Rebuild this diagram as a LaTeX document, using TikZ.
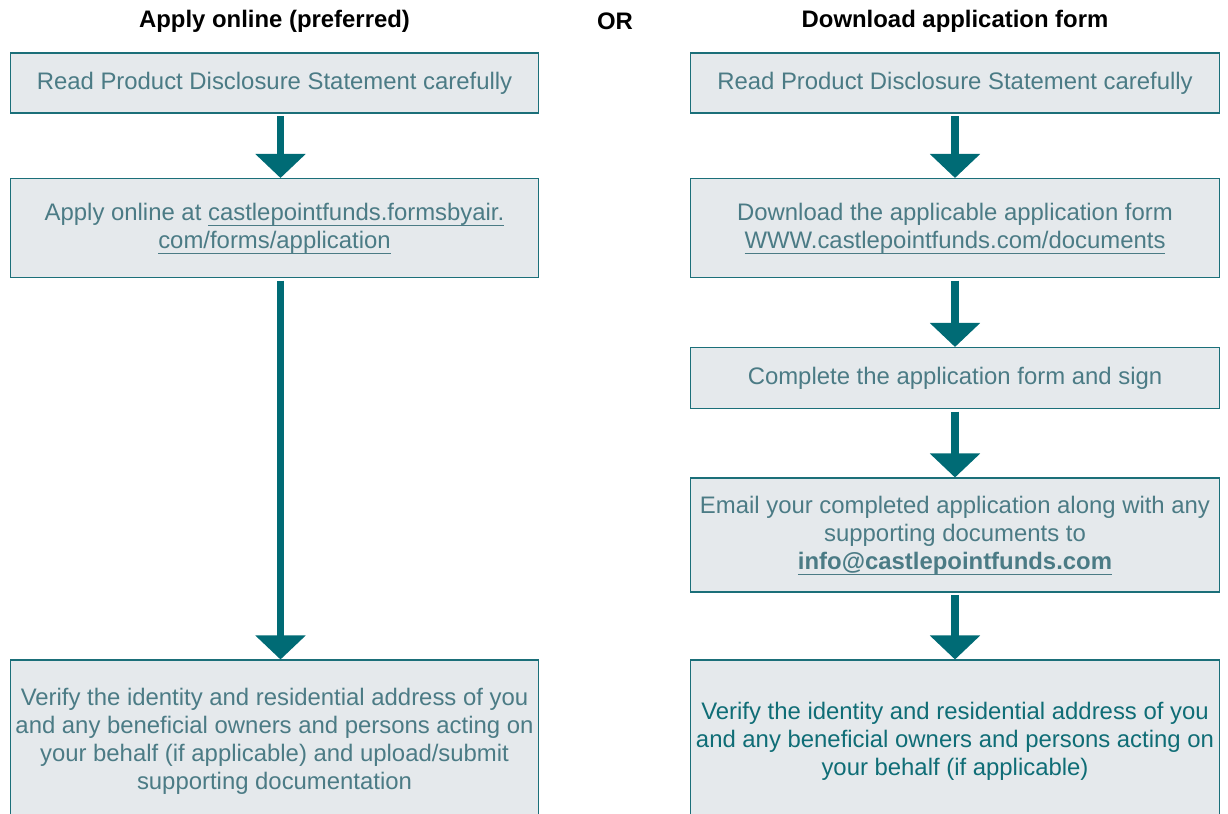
\documentclass[tikz,border=0pt]{standalone}
\usepackage{fontspec}
\setmainfont{Liberation Sans}
\usepackage{tikz}
\usetikzlibrary{arrows.meta}
\definecolor{boxfill}{HTML}{E5E9EC}
\definecolor{boxline}{HTML}{1B6F79}
\definecolor{flowteal}{HTML}{006B75}
\definecolor{steptext}{HTML}{4B7B85}
\definecolor{verifytext}{HTML}{0F6D76}
\newcommand{\weblink}[1]{{\setbox0\hbox{#1}\rlap{\smash{\rule[-3.4pt]{\wd0}{0.8pt}}}\box0}}
\newcommand{\stepFont}[0]{\fontsize{13.6}{16}\selectfont}

\begin{document}
\begin{tikzpicture}[x=0.02cm, y=-0.02cm]
  \tikzset{stepbox/.style={draw=boxline, line width=0.6pt, fill=boxfill, text=steptext,
      font=\stepFont, align=center, minimum width=10.58cm, inner sep=2pt},
    heading/.style={font=\stepFont\bfseries, text=black},
    flow/.style={draw=flowteal, line width=0.15cm, shorten <=0.05cm,
      -{Triangle[width=0.98cm, length=0.48cm]}}}
  \clip (0,0) rectangle (1228,814);
  \node[heading] (hleft) at (274.5,21) {Apply online (preferred)};
  \node[heading] (hor) at (615,21) {OR};
  \node[heading] (hright) at (955,21) {Download application form};

  \node[stepbox, minimum height=1.2cm] (lread) at (274.5,83)
    {Read Product Disclosure Statement carefully};
  \node[stepbox, minimum height=1.98cm] (lapply) at (274.5,228)
    {Apply online at \weblink{castlepointfunds.formsbyair.}\\\weblink{com/forms/application}};
  \node[stepbox, minimum height=3.24cm] (lverify) at (274.5,741)
    {Verify the identity and residential address of you\\and any beneficial owners and persons acting on\\your behalf (if applicable) and upload/submit\\supporting documentation};

  \node[stepbox, minimum height=1.2cm] (rread) at (955,83)
    {Read Product Disclosure Statement carefully};
  \node[stepbox, minimum height=1.98cm] (rdownload) at (955,228)
    {Download the applicable application form\\\weblink{WWW.castlepointfunds.com/documents}};
  \node[stepbox, minimum height=1.22cm] (rsign) at (955,378)
    {Complete the application form and sign};
  \node[stepbox, minimum height=2.28cm] (remail) at (955,535)
    {Email your completed application along with any\\supporting documents to\\\textbf{\weblink{info@castlepointfunds.com}}};
  \node[stepbox, minimum height=3.24cm, text=verifytext] (rverify) at (955,741)
    {Verify the identity and residential address of you\\and any beneficial owners and persons acting on\\your behalf (if applicable)};

  \draw[flow] ([xshift=0.12cm]lread.south) -- ([xshift=0.12cm]lapply.north);
  \draw[flow] ([xshift=0.12cm]lapply.south) -- ([xshift=0.12cm]lverify.north);
  \draw[flow] (rread) -- (rdownload);
  \draw[flow] (rdownload) -- (rsign);
  \draw[flow] (rsign) -- (remail);
  \draw[flow] (remail) -- (rverify);
\end{tikzpicture}
\end{document}
